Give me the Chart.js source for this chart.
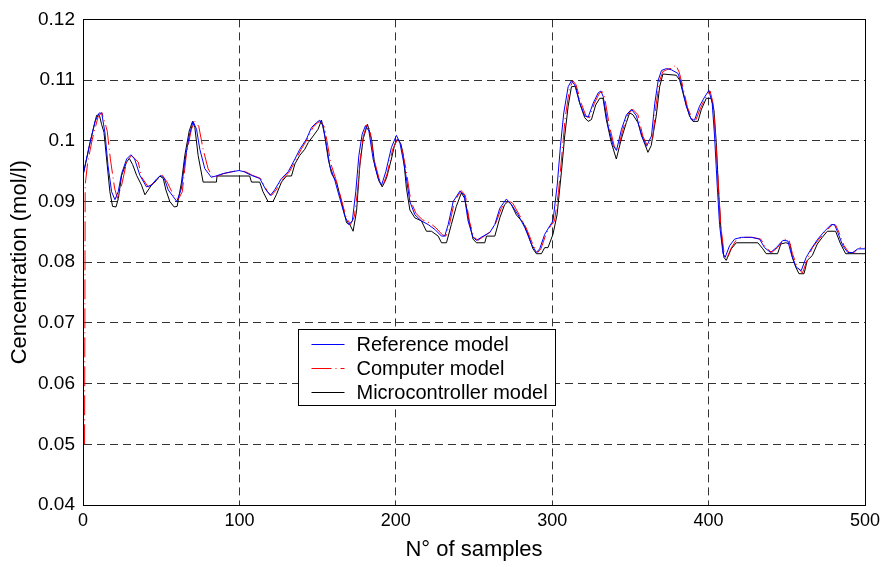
<!DOCTYPE html>
<html><head><meta charset="utf-8">
<script src="https://cdn.jsdelivr.net/npm/chart.js@4.4.1/dist/chart.umd.min.js"></script>
<style>html,body{margin:0;padding:0;background:#fff;}#wrap{width:882px;height:567px;}</style>
</head><body><div id="wrap"><canvas id="c" width="882" height="567"></canvas></div>
<script>
const xTicks = [0, 100, 200, 300, 400, 500];
const yTicks = [0.04, 0.05, 0.06, 0.07, 0.08, 0.09, 0.10, 0.11, 0.12];
const yTickLabels = ['0.04', '0.05', '0.06', '0.07', '0.08', '0.09', '0.1', '0.11', '0.12'];
const seriesNames = ['Reference model', 'Computer model', 'Microcontroller model'];
const xTitle = 'N° of samples';
const yTitle = 'Cencentration (mol/l)';

const refX = [0,4.5,7.7,10.4,12,14,16,18.3,20.4,22.5,24.7,27.9,30.6,33,36.4,40.6,43.8,47,49.8,52,54.5,57.7,60,63,65,67.9,70.4,72.6,74.7,77.9,82,85,89.6,95,99.8,103,107.7,113,117,119.8,122.5,126.9,131.2,135.5,138.6,142.9,146.1,149.3,151.4,153.6,155.7,157.8,161,164.2,167.4,170,172.2,174.4,176.4,178.5,180.6,182.8,185.5,188.7,190.9,193.6,197.2,200.4,202.6,205.8,209,212.2,216.4,220.7,225,229.2,231.3,233.5,236.7,240.9,243.7,246.2,249.4,251.6,255.9,260.1,263.3,266.5,270.7,273.9,278.2,282.5,286.7,289.9,292,295.2,298.5,300.5,303.2,305.3,307.4,310.2,312.3,314.4,317.6,320.8,323,326.2,329.4,331.1,332.6,335.8,339,341.1,344.3,347.5,350.7,353.9,357.1,360.3,363.5,365.6,367.8,369.9,373.1,376.2,380.4,382.5,385.7,388.9,391,394.2,397.4,400.2,402.3,403.8,405.5,407,409.2,410.6,413.4,416.6,420.9,427.3,432.6,435.8,439.6,443.3,447.5,450.7,452.8,456,459.2,462.4,465.6,469.8,474.1,478.4,480.5,482.6,485.8,489,492.2,495.4,500];
const refY = [0.0943,0.0997,0.1032,0.1046,0.1045,0.1014,0.0959,0.0916,0.0903,0.0916,0.0946,0.0970,0.0977,0.0970,0.0943,0.0924,0.0927,0.0937,0.0943,0.0938,0.0919,0.0908,0.0900,0.0922,0.0965,0.1008,0.1032,0.1019,0.0986,0.0954,0.0940,0.0942,0.0946,0.0949,0.0951,0.0949,0.0943,0.0938,0.0919,0.0910,0.0919,0.0938,0.0949,0.0970,0.0986,0.1003,0.1022,0.1030,0.1034,0.1024,0.0992,0.0959,0.0935,0.0905,0.0876,0.0862,0.0868,0.0916,0.0976,0.1011,0.1025,0.1016,0.0970,0.0938,0.0927,0.0949,0.0989,0.1009,0.0997,0.0954,0.0900,0.0878,0.0868,0.0862,0.0854,0.0843,0.0843,0.0862,0.0900,0.0917,0.0911,0.0868,0.0841,0.0836,0.0843,0.0849,0.0862,0.0889,0.0904,0.0895,0.0878,0.0857,0.0830,0.0816,0.0822,0.0846,0.0860,0.0868,0.0927,0.0992,0.1046,0.1089,0.1099,0.1092,0.1062,0.1041,0.1039,0.1062,0.1079,0.1082,0.1073,0.1024,0.0992,0.0984,0.1019,0.1043,0.1052,0.1041,0.1008,0.0991,0.1008,0.1062,0.1100,0.1116,0.1119,0.1117,0.1111,0.1095,0.1057,0.1035,0.1034,0.1057,0.1072,0.1083,0.1062,0.1008,0.0927,0.0862,0.0814,0.0808,0.0827,0.0838,0.0841,0.0841,0.0838,0.0824,0.0816,0.0824,0.0836,0.0835,0.0814,0.0792,0.0786,0.0808,0.0822,0.0838,0.0851,0.0862,0.0862,0.0849,0.0827,0.0816,0.0816,0.0822,0.0822];

const compX = [1,1.4,3,6,9.5,12,14,15.5,17.5,20.2,22,24.7,27.9,31,35.3,37.5,41.7,46,50.8,53.8,57.7,60.8,63.5,66,69.3,71.5,74,76.8,80,83,86,90,95.5,100,104,108.5,113.5,118,120.5,123.5,128,132,136,139.5,143.5,147,150,152,154.5,156.5,158.5,161.5,165,168,171,173.5,175.5,177.3,179.3,181.5,183.5,186,189.3,191.6,194.5,198,201.2,203.2,206.5,209.6,213,217,221.5,225.5,229.8,232,234.3,237.5,241.8,244.5,247,250,252.5,256.5,261,264,267.5,271.5,274.8,279,283.3,287.5,290.7,292.8,296,299,301.5,304,306.3,308.3,311,313.2,315.3,318.5,321.6,323.8,327,330.3,332,333.5,336.6,339.8,341.9,345,348.2,351.5,354.8,357.9,361,364.3,366.5,368.6,370.7,374,377,379,381.2,383.3,386.5,389.7,391.8,395,398.2,401,403,404.5,406.3,407.8,410,411.5,414.2,417.5,421.7,428,433.4,436.6,440.4,444,448.3,451.5,453.6,456.8,460,463.2,466.4,470.6,475,479.2,481.3,483.4,486.6,489.8,493,496.2,500];
const compY = [0.0500,0.0927,0.0965,0.1003,0.1038,0.1047,0.1030,0.1016,0.0970,0.0922,0.0905,0.0927,0.0965,0.0976,0.0965,0.0940,0.0924,0.0932,0.0943,0.0932,0.0911,0.0903,0.0916,0.0976,0.1019,0.1032,0.1024,0.0986,0.0954,0.0940,0.0942,0.0946,0.0949,0.0952,0.0949,0.0943,0.0938,0.0916,0.0910,0.0919,0.0938,0.0949,0.0968,0.0986,0.1003,0.1022,0.1030,0.1032,0.1022,0.0992,0.0962,0.0938,0.0905,0.0876,0.0862,0.0875,0.0916,0.0970,0.1008,0.1027,0.1018,0.0970,0.0938,0.0925,0.0946,0.0986,0.1003,0.0995,0.0954,0.0900,0.0880,0.0870,0.0865,0.0857,0.0845,0.0843,0.0862,0.0900,0.0918,0.0910,0.0868,0.0841,0.0836,0.0843,0.0851,0.0865,0.0889,0.0902,0.0897,0.0878,0.0857,0.0830,0.0816,0.0822,0.0846,0.0860,0.0868,0.0915,0.0980,0.1038,0.1085,0.1099,0.1092,0.1062,0.1041,0.1038,0.1062,0.1079,0.1081,0.1072,0.1024,0.0990,0.0984,0.1017,0.1043,0.1052,0.1043,0.1008,0.0991,0.1005,0.1060,0.1098,0.1114,0.1118,0.1120,0.1125,0.1113,0.1092,0.1055,0.1035,0.1034,0.1055,0.1072,0.1082,0.1060,0.1005,0.0925,0.0860,0.0812,0.0805,0.0822,0.0836,0.0841,0.0841,0.0838,0.0824,0.0816,0.0824,0.0838,0.0836,0.0814,0.0792,0.0782,0.0805,0.0824,0.0838,0.0851,0.0862,0.0861,0.0849,0.0827,0.0816,0.0816,0.0824,0.0824];

const microX = [0,4.5,8.7,10.4,11.9,13.4,15.1,17.2,18.9,21.1,22.6,24.7,27.9,29.6,31.7,34.3,37.4,39.6,41.7,43.8,46,49.1,51.3,53,55.5,58.3,60.2,63,65.1,67.9,70,71.5,73.6,76.8,85.3,85.7,106.6,107.7,113,115.1,118.3,121.5,123.6,126.9,130.1,133.3,135.5,138.6,141.8,144,147.2,150.3,152.5,154.6,156.8,158.9,162.1,165.3,168.5,170.6,172.7,174.9,177,179.1,181.9,184.5,186.6,189.2,191.3,194,197.2,199.4,201.1,203.2,204.7,206.8,209,212.2,216.4,219.6,222.8,227.1,229.2,232.4,235.5,238.7,241.9,244.1,247.3,249.4,251.6,256.9,258,263.3,266.5,269.6,271.8,273.9,277.1,281.4,284.5,287.7,289.9,293.1,295.2,297.3,300.5,303.1,305.9,308,310.2,312.3,315,317.6,320.8,323,325.1,327.8,330.4,332.5,334.6,337.8,341,344.2,347.4,349.5,351.6,354.8,358,361.2,363.3,366.5,368.7,370.8,379.3,381.5,384.7,387.8,390,393.2,395.3,398.5,401.7,403.4,404.9,406.4,408.1,409.8,411.3,414.5,417.7,431.5,434.7,436.8,444.1,446.2,449.3,452.1,453.5,455.7,457.8,461,463.1,466.3,469.5,472.7,475.9,481.2,484.4,487.6,500];
const microY = [0.0943,0.0997,0.1042,0.1043,0.1027,0.1014,0.0970,0.0916,0.0892,0.0891,0.0905,0.0943,0.0965,0.0971,0.0961,0.0943,0.0927,0.0911,0.0919,0.0927,0.0932,0.0942,0.0938,0.0919,0.0900,0.0891,0.0892,0.0932,0.0976,0.1016,0.1032,0.1022,0.0976,0.0932,0.0932,0.0942,0.0942,0.0932,0.0932,0.0916,0.0900,0.0900,0.0911,0.0932,0.0942,0.0942,0.0962,0.0976,0.0986,0.0997,0.1008,0.1019,0.1034,0.1008,0.0970,0.0946,0.0932,0.0900,0.0865,0.0862,0.0851,0.0884,0.0959,0.1003,0.1027,0.1003,0.0959,0.0934,0.0924,0.0938,0.0970,0.0995,0.1003,0.0995,0.0978,0.0922,0.0886,0.0873,0.0868,0.0851,0.0851,0.0843,0.0832,0.0832,0.0862,0.0892,0.0914,0.0905,0.0862,0.0838,0.0832,0.0832,0.0843,0.0843,0.0873,0.0895,0.0900,0.0895,0.0878,0.0865,0.0846,0.0822,0.0814,0.0814,0.0824,0.0824,0.0846,0.0878,0.0949,0.1008,0.1057,0.1089,0.1090,0.1062,0.1038,0.1032,0.1035,0.1059,0.1070,0.1070,0.1035,0.0997,0.0970,0.1003,0.1030,0.1046,0.1043,0.1030,0.1003,0.0981,0.0992,0.1041,0.1089,0.1110,0.1108,0.1100,0.1068,0.1041,0.1032,0.1032,0.1051,0.1070,0.1070,0.1051,0.0997,0.0916,0.0846,0.0808,0.0803,0.0822,0.0832,0.0832,0.0822,0.0814,0.0814,0.0830,0.0832,0.0830,0.0808,0.0792,0.0781,0.0781,0.0803,0.0811,0.0830,0.0841,0.0851,0.0851,0.0830,0.0814,0.0814];

const FONT = '"Liberation Sans", Arial, sans-serif';
const pts = (xs, ys) => xs.map((x, i) => ({x: x, y: ys[i]}));

const frameAndLegend = {
  id: 'frameAndLegend',
  afterDatasetsDraw(chart) {
    const {ctx, chartArea: a} = chart;
    ctx.save();
    ctx.strokeStyle = '#000';
    ctx.lineWidth = 1;
    ctx.setLineDash([]);
    const l = Math.round(a.left) + 0.5, t = Math.round(a.top) + 0.5;
    const r = Math.round(a.right) + 0.5, b = Math.round(a.bottom) + 0.5;
    ctx.strokeRect(l, t, r - l, b - t);
    const bx = Math.round(a.left + 215) + 0.5, by = Math.round(a.top + 310) + 0.5, bw = 257, bh = 76;
    ctx.fillStyle = '#fff';
    ctx.fillRect(bx, by, bw, bh);
    ctx.strokeRect(bx, by, bw, bh);
    ctx.font = '20px ' + FONT;
    ctx.textBaseline = 'middle';
    chart.data.datasets.forEach((ds, i) => {
      const yy = Math.round(by + 14 + i * 24) + 0.5;
      ctx.strokeStyle = ds.borderColor;
      ctx.setLineDash(ds.borderDash || []);
      ctx.beginPath();
      ctx.moveTo(bx + 13, yy);
      ctx.lineTo(bx + 46, yy);
      ctx.stroke();
      ctx.setLineDash([]);
      ctx.fillStyle = '#000';
      ctx.fillText(ds.label, bx + 58, yy + 1);
    });
    ctx.restore();
  }
};

new Chart(document.getElementById('c'), {
  type: 'line',
  data: {
    datasets: [
      {label: seriesNames[0], data: pts(refX, refY), borderColor: '#0000ff', borderWidth: 1, pointRadius: 0, tension: 0, order: 1},
      {label: seriesNames[1], data: pts(compX, compY), borderColor: '#ff0000', borderWidth: 1, pointRadius: 0, tension: 0, borderDash: [20, 4, 1, 4], order: 2},
      {label: seriesNames[2], data: pts(microX, microY), borderColor: '#000000', borderWidth: 1, pointRadius: 0, tension: 0, order: 3}
    ]
  },
  options: {
    responsive: false,
    animation: false,
    events: [],
    layout: {padding: {top: 19, right: 17, left: 0, bottom: 0}},
    plugins: {legend: {display: false}, tooltip: {enabled: false}},
    scales: {
      x: {
        type: 'linear', min: 0, max: 500,
        afterBuildTicks: s => { s.ticks = xTicks.map(v => ({value: v})); },
        afterFit: s => { s.height = 62; s.paddingLeft = 0; s.paddingRight = 0; },
        ticks: {color: '#000', font: {family: FONT, size: 18}, padding: 5, maxRotation: 0, callback: v => String(v)},
        grid: {color: '#333', lineWidth: 1, drawTicks: false},
        border: {display: true, color: '#000', width: 1, dash: [8, 5]},
        title: {display: true, text: xTitle, color: '#000', font: {family: FONT, size: 22}, padding: {top: 0, bottom: 4}}
      },
      y: {
        type: 'linear', min: 0.04, max: 0.12,
        afterBuildTicks: s => { s.ticks = yTicks.map(v => ({value: v})); },
        afterFit: s => { s.width = 83; },
        ticks: {color: '#000', font: {family: FONT, size: 19}, padding: 8, callback: (v, i) => yTickLabels[i]},
        grid: {color: '#333', lineWidth: 1, drawTicks: false},
        border: {display: true, color: '#000', width: 1, dash: [8, 5]},
        title: {display: true, text: yTitle, color: '#000', font: {family: FONT, size: 22}, padding: {top: 7, bottom: 0}}
      }
    }
  },
  plugins: [frameAndLegend]
});
</script>
</body></html>
